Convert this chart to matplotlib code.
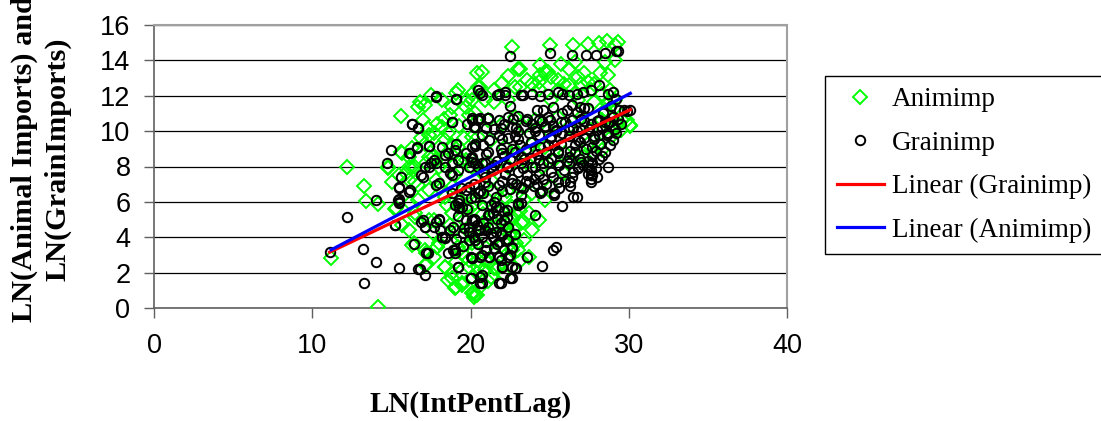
"""
Scatter of LN(Animal Imports) and LN(GrainImports) against LN(IntPentLag)
"""
import numpy as np
import matplotlib
matplotlib.use("Agg")
import matplotlib.pyplot as plt

# Animimp points (x, y)
animimp_pts = [
    (11.2, 2.85), (12.2, 7.95), (13.3, 6.91), (13.4, 6.03), (14.15, 5.87), (14.15, 0.04),
    (14.8, 7.89), (15.05, 7.1), (15.26, 5.6), (15.6, 8.81), (15.6, 10.87), (15.7, 4.69),
    (15.9, 7.61), (16.2, 5.91), (16.4, 3.65), (16.7, 11.37), (16.8, 11.66), (17.0, 10.62),
    (17.1, 11.47), (17.2, 3.09), (17.2, 2.43), (17.4, 9.77), (17.5, 12.03), (17.7, 4.97),
    (17.9, 10.43), (18.0, 3.65), (18.4, 2.33), (18.6, 1.58), (18.7, 10.9), (18.8, 1.96),
    (19.0, 1.11), (19.1, 12.16), (19.2, 12.35), (19.45, 1.3), (19.8, 11.75), (19.9, 10.9),
    (20.2, 0.83), (20.4, 0.73), (20.5, 12.5), (20.7, 13.35), (21.0, 4.97), (21.3, 4.59),
    (21.8, 5.35), (22.2, 4.78), (22.6, 4.97), (22.8, 5.35), (23.3, 4.88), (22.6, 14.76),
    (22.4, 13.11), (23.1, 13.5), (22.6, 2.33), (24.4, 13.16), (24.7, 13.35), (25.0, 14.86),
    (24.3, 12.79), (30.1, 10.28),
    (16.3, 9.02), (15.7, 8.74), (16.1, 7.98), (17.4, 8.55), (17.8, 8.36), (18.4, 8.36),
    (18.8, 9.21), (19.2, 9.11), (19.7, 8.36), (20.1, 9.68), (20.4, 13.26),
    (14.8, 7.98), (15.5, 7.51), (16.1, 7.23), (16.3, 7.98), (16.7, 6.95), (15.3, 5.63),
    (16.5, 5.16), (16.3, 3.56), (17.1, 3.27), (17.1, 2.43), (17.9, 3.46), (17.7, 2.9),
    (18.4, 2.33), (18.8, 1.67), (19.1, 1.2), (19.45, 1.39), (20.1, 0.83), (20.2, 0.64),
    (19.45, 3.09), (19.9, 2.71), (20.1, 1.77),
    (26.5, 14.86), (27.4, 14.95), (28.1, 14.99), (28.6, 15.1), (29.3, 15.05), (29.1, 14.86),
    (23.0, 13.54), (24.4, 13.73), (24.9, 13.35), (25.7, 13.82), (26.2, 13.54), (26.6, 13.92),
    (26.8, 13.07), (27.2, 13.26), (27.4, 12.79), (28.2, 13.26), (27.8, 12.69), (28.7, 13.16),
    (29.1, 14.01), (28.5, 13.92), (25.5, 12.88), (26.2, 12.6), (20.6, 12.5), (23.1, 12.5),
    (23.9, 12.69), (20.1, 11.75), (21.5, 11.66), (22.4, 11.75), (29.1, 11.28), (29.6, 10.62),
    (30.1, 10.34), (25.1, 11.75), (26.8, 11.75), (27.8, 11.66), (28.7, 11.56),
    (20.3, 11.0), (21.1, 10.62), (22.0, 10.43), (22.8, 10.81), (23.4, 10.24), (24.1, 10.62),
    (24.9, 10.06), (25.5, 10.81), (26.2, 10.24), (27.0, 10.81), (27.6, 10.06), (28.3, 10.62),
    (28.9, 10.24), (29.5, 10.06), (20.5, 9.68), (21.3, 9.49), (22.2, 9.11), (23.0, 8.74),
    (23.9, 9.3), (24.7, 9.11), (25.3, 8.36), (26.0, 8.74), (26.8, 8.55), (27.4, 9.3),
    (28.3, 8.93), (28.9, 9.68), (20.1, 8.36), (21.1, 8.17), (22.4, 7.98), (23.6, 8.17),
    (24.5, 7.98),
    (20.3, 0.73), (20.5, 2.33), (21.5, 2.24), (23.2, 2.71), (23.7, 2.9), (22.6, 3.27),
    (22.8, 4.59), (23.2, 4.78), (23.7, 5.35), (22.7, 4.12), (22.4, 3.84), (22.0, 5.54),
    (21.1, 6.1), (20.7, 4.59), (20.1, 3.65), (20.3, 5.91), (20.0, 5.72), (21.8, 2.9),
    (22.2, 4.4), (19.9, 2.33), (20.9, 2.71),
    (23.9, 6.48), (24.7, 6.1), (25.1, 6.85), (25.9, 7.61), (26.4, 8.36), (27.2, 8.55),
    (27.8, 8.74), (28.1, 9.3), (22.6, 5.72), (23.4, 6.1), (23.0, 6.85), (22.2, 6.29),
    (21.3, 7.23), (20.7, 7.61), (20.1, 7.98), (19.45, 8.36), (19.0, 8.74), (18.4, 9.49),
    (18.2, 10.24), (18.0, 6.85), (18.4, 6.29), (18.8, 5.35), (19.0, 4.41), (19.2, 3.46),
    (19.7, 2.9), (19.7, 5.72), (19.9, 4.59), (20.3, 3.84), (20.5, 2.71), (20.9, 2.15),
    (21.3, 1.77), (21.8, 2.33), (22.4, 2.9), (23.0, 3.28), (23.4, 3.84), (23.9, 4.41),
    (24.3, 4.97),
    (16.7, 6.1), (17.4, 6.67), (17.8, 7.23), (17.2, 8.17), (16.5, 7.98), (16.1, 8.55),
    (17.1, 9.3), (17.6, 8.55), (18.0, 9.11), (16.5, 5.35), (16.1, 4.41), (17.6, 4.22),
    (17.9, 3.46), (17.4, 4.97), (16.5, 7.14),
    (18.2, 11.75), (18.8, 11.37), (19.7, 11.37), (20.1, 12.1), (20.9, 11.75), (21.5, 12.3),
    (22.0, 12.7), (22.8, 12.5), (23.6, 12.88), (24.3, 12.4),
    (25.1, 13.07), (25.5, 12.3), (25.9, 12.69), (26.6, 12.12), (27.0, 12.69), (27.6, 12.3),
    (28.3, 12.12), (28.8, 12.3), (29.1, 11.75), (28.5, 11.19), (29.3, 10.43), (29.9, 10.62),
    (18.5, 5.8), (18.9, 6.9), (19.3, 6.0), (19.6, 5.0), (19.8, 6.5), (20.0, 4.2),
    (20.2, 3.2), (20.4, 2.0), (20.6, 6.5), (20.8, 5.3), (21.0, 3.4), (21.2, 2.6),
    (21.4, 6.6), (21.6, 4.6), (21.9, 3.5), (22.1, 1.9), (22.3, 6.6), (22.5, 4.2),
    (22.9, 3.7), (23.1, 5.5), (19.4, 4.0), (18.7, 4.7), (19.1, 2.6), (20.6, 1.2),
    (21.1, 1.5),
    (16.9, 9.6), (17.3, 10.2), (17.7, 9.9), (18.3, 10.7), (18.6, 9.9), (19.3, 10.3),
    (19.6, 9.6), (18.0, 8.0), (19.0, 7.5),
]

# Grainimp points (x, y)
grainimp_pts = [
    (11.1, 3.15), (12.2, 5.12), (13.2, 3.35), (13.3, 1.43), (14.0, 2.6), (14.0, 6.08),
    (14.7, 8.21), (15.0, 8.93), (15.2, 4.67), (15.4, 6.1), (15.5, 6.0), (15.5, 2.28),
    (15.5, 6.76), (15.6, 7.42), (16.2, 8.74), (16.2, 6.67), (16.3, 10.4), (16.4, 3.6),
    (16.7, 10.2), (16.6, 9.11), (16.8, 2.18), (17.0, 4.97), (17.1, 4.59), (17.1, 1.84),
    (17.2, 3.09), (17.0, 7.42), (17.1, 7.98), (17.4, 9.17), (17.5, 8.17), (17.7, 8.36),
    (17.8, 11.94), (17.8, 6.95), (18.0, 4.97), (18.1, 4.41), (18.2, 3.99), (18.4, 8.64),
    (18.4, 4.03), (18.6, 3.09), (18.7, 7.61), (18.8, 10.5), (18.9, 3.28), (19.0, 3.09),
    (19.1, 11.79), (19.1, 9.3), (19.2, 2.33), (19.3, 6.1), (19.3, 5.63), (19.5, 4.22),
    (19.7, 4.97), (19.9, 3.84), (20.0, 1.67), (20.0, 2.9), (20.2, 5.06), (20.2, 10.24),
    (20.5, 12.3), (20.5, 10.71), (20.6, 12.16), (20.6, 1.39), (20.7, 1.86), (20.7, 2.99),
    (20.6, 4.41), (20.8, 4.78), (20.8, 6.48), (21.1, 10.73), (21.2, 2.9), (21.3, 4.22),
    (21.6, 5.72), (21.7, 12.07), (21.8, 2.9), (21.8, 1.43), (21.9, 4.22), (22.0, 2.33),
    (22.2, 12.03), (22.3, 5.16), (22.4, 2.9), (22.5, 14.24), (22.5, 1.67), (22.6, 2.33),
    (22.9, 2.24), (23.0, 5.91), (23.3, 12.03), (23.6, 2.9), (24.1, 5.25), (24.4, 6.57),
    (24.5, 2.39), (25.0, 14.39), (25.2, 3.28), (25.4, 3.46), (25.3, 6.53), (25.8, 5.76),
    (26.4, 14.33), (26.5, 6.29), (26.7, 6.29), (27.3, 14.33), (27.9, 14.33), (28.1, 12.6),
    (28.5, 14.44), (29.2, 14.54), (29.3, 14.54), (29.9, 11.13), (30.1, 11.19), (27.6, 7.51),
    (27.6, 7.32), (27.7, 8.17), (28.7, 9.87),
    (20.0, 8.5), (20.3, 9.3), (20.5, 8.0), (20.7, 9.8), (20.9, 7.4), (21.0, 8.7),
    (21.2, 9.5), (21.4, 7.8), (21.5, 10.1), (21.7, 8.3), (21.9, 9.0), (22.0, 7.2),
    (22.1, 10.4), (20.2, 7.0), (20.6, 6.6), (21.1, 6.9), (21.6, 6.3), (22.0, 6.6),
    (22.3, 8.0), (22.4, 9.6), (22.6, 7.3), (22.8, 8.8), (22.9, 10.2), (23.0, 7.7),
    (23.1, 9.2), (23.3, 6.8), (23.4, 8.4), (23.5, 10.6), (23.6, 7.5), (23.8, 9.4),
    (23.9, 8.0), (24.0, 6.9), (24.1, 10.0), (22.5, 6.7), (23.2, 6.4), (23.7, 7.1),
    (22.7, 10.7), (24.2, 8.7),
    (24.3, 7.6), (24.4, 9.1), (24.6, 8.2), (24.7, 10.3), (24.8, 7.0), (25.0, 9.6),
    (25.1, 8.5), (25.2, 7.4), (25.4, 10.0), (25.5, 8.9), (25.6, 6.8), (25.7, 9.3),
    (25.9, 7.8), (26.0, 10.5), (24.5, 6.6), (25.3, 6.4), (25.8, 11.0), (24.9, 10.8),
    (26.1, 8.3), (26.2, 9.7), (26.4, 7.4), (26.5, 10.2), (26.6, 8.8), (26.8, 7.9),
    (26.9, 9.4), (27.0, 10.7), (27.1, 8.1), (27.3, 9.0), (27.4, 7.6), (27.5, 10.1),
    (27.7, 8.6), (27.8, 9.7), (27.9, 7.9), (28.0, 10.6), (26.3, 6.9), (26.7, 11.1),
    (27.2, 11.3), (27.6, 7.1),
    (28.1, 8.4), (28.2, 9.3), (28.3, 10.2), (28.4, 11.0), (28.5, 8.8), (28.6, 9.8),
    (28.8, 10.5), (28.9, 11.4), (29.0, 9.5), (29.1, 10.1), (29.2, 11.8), (29.3, 10.7),
    (28.7, 8.0), (29.4, 11.2),
    (18.8, 6.5), (19.0, 5.8), (19.2, 5.2), (19.4, 6.8), (19.6, 4.5), (19.8, 5.6),
    (20.0, 6.2), (20.2, 4.0), (20.3, 5.0), (20.5, 3.6), (20.7, 5.8), (20.9, 4.4),
    (21.0, 3.3), (21.2, 5.3), (21.4, 4.0), (21.5, 6.0), (21.7, 3.6), (21.9, 4.8),
    (22.1, 5.5), (22.3, 3.9), (22.4, 4.6), (22.6, 3.4), (22.8, 4.2), (19.1, 3.9),
    (19.5, 3.5), (18.9, 4.6),
    (20.1, 4.97), (20.4, 4.69), (20.5, 4.4), (19.9, 4.31), (20.7, 4.03), (20.3, 3.84),
    (21.1, 4.59), (21.6, 4.31), (22.0, 4.12), (21.0, 3.75), (21.8, 3.75), (22.4, 3.84),
    (21.5, 3.37), (22.1, 3.27), (22.6, 3.46), (20.1, 2.8), (20.6, 2.9), (21.2, 2.9),
    (21.9, 2.71), (22.5, 2.99), (22.0, 2.33), (22.8, 2.24), (22.6, 1.67), (21.9, 1.43),
    (20.6, 1.77), (20.7, 1.39), (20.0, 1.67), (23.2, 5.91), (23.0, 5.82), (22.3, 5.54),
    (21.8, 5.72), (21.3, 5.82), (21.4, 5.35), (22.1, 4.97), (21.7, 5.06), (21.1, 5.25),
    (20.1, 8.27), (20.7, 8.17), (21.5, 8.08), (22.4, 7.98), (23.2, 8.17), (24.1, 7.98),
    (24.9, 8.27), (25.5, 8.08), (26.2, 8.17), (26.8, 7.98), (27.6, 7.8), (27.7, 7.51),
    (26.3, 7.14), (25.3, 6.48), (24.4, 6.48), (23.2, 6.85), (22.6, 7.04), (21.8, 6.95),
    (20.9, 7.14), (20.5, 6.48), (19.9, 6.85),
    (20.1, 10.75), (20.6, 10.75), (21.1, 10.75), (21.8, 10.62), (22.4, 10.81), (23.0, 10.85),
    (23.6, 10.71), (24.3, 10.62), (25.0, 10.62), (25.7, 10.53), (26.4, 10.62), (27.2, 10.58),
    (28.1, 10.62), (28.7, 10.53), (20.2, 10.24), (21.9, 10.15), (22.6, 10.24), (24.1, 10.15),
    (24.7, 10.24), (25.4, 10.06), (26.2, 10.06), (27.0, 10.06), (28.0, 10.06), (28.6, 9.87),
    (20.3, 9.15), (20.8, 9.21), (22.0, 9.53), (23.0, 9.58), (25.1, 9.68), (26.8, 9.49),
    (27.7, 9.11), (27.8, 9.58), (20.1, 8.55), (21.1, 8.83), (22.0, 8.74), (23.2, 8.55),
    (24.3, 8.36), (25.5, 8.74), (26.2, 8.55), (27.0, 8.27), (27.7, 8.17), (20.9, 8.17),
    (20.7, 12.03), (21.8, 12.1), (22.2, 12.22), (23.2, 12.03), (23.9, 12.1), (24.4, 12.0),
    (24.9, 12.1), (25.5, 12.22), (25.8, 12.1), (26.2, 12.03), (26.7, 12.1), (27.1, 12.22),
    (27.6, 12.3), (28.7, 12.1), (29.0, 12.2),
    (22.5, 11.41), (24.2, 11.19), (24.6, 11.22), (25.2, 11.34), (26.4, 11.47), (26.9, 11.34),
    (27.4, 11.28), (29.7, 11.18),
    (17.8, 11.98), (19.1, 11.79), (16.3, 10.43), (16.7, 10.2), (18.8, 10.53), (16.1, 8.74),
    (16.6, 9.02), (17.4, 9.15), (19.8, 10.43), (20.1, 10.62), (20.3, 10.24), (20.5, 10.62),
    (18.2, 9.11), (18.6, 8.74), (19.0, 8.93), (19.2, 8.36), (19.7, 8.74), (20.1, 9.11),
    (18.8, 8.17), (17.4, 7.98), (17.8, 8.17), (20.3, 8.17),
    (15.5, 6.85), (15.5, 6.19), (15.5, 5.91), (16.1, 6.57), (15.2, 4.69), (16.7, 2.18),
    (17.3, 3.09), (16.9, 4.88), (17.1, 4.59), (17.8, 4.88), (17.7, 4.59), (18.0, 5.06),
    (18.2, 4.03), (18.4, 3.93), (18.7, 4.4), (19.0, 3.27), (19.2, 2.33), (19.2, 5.91),
    (19.45, 5.72), (19.9, 4.59), (20.1, 4.97), (20.1, 2.8), (18.8, 7.51), (18.0, 7.04),
    (16.9, 7.51), (18.4, 7.98), (19.2, 7.8), (19.9, 7.98), (19.7, 6.66), (20.3, 6.29),
    (22.2, 7.6), (22.5, 8.4), (22.9, 7.0), (23.3, 7.9), (23.5, 9.0), (23.8, 8.5),
    (24.0, 7.3), (24.3, 9.8), (24.6, 7.3), (24.8, 8.8), (25.1, 7.7), (25.3, 9.2),
    (25.6, 8.1), (25.8, 9.9), (26.0, 7.2), (26.3, 8.9), (26.5, 7.7), (26.7, 10.0),
    (26.9, 8.4), (27.2, 9.6), (27.4, 8.3), (27.6, 10.4), (27.9, 8.9), (28.1, 9.8),
    (28.3, 8.6), (28.5, 10.5), (28.8, 9.2), (29.0, 10.8), (29.2, 9.9), (29.5, 10.4),
    (23.0, 10.0), (23.7, 9.9), (24.5, 10.6), (25.2, 10.3), (26.1, 11.2), (25.5, 7.1),
    (24.2, 7.0), (23.5, 7.2), (22.8, 9.7), (22.1, 8.6), (21.3, 8.0), (21.8, 9.8),
    (21.0, 10.2), (20.8, 7.7), (22.6, 9.0), (23.9, 10.4), (24.9, 9.2), (26.6, 9.2),
    (27.5, 7.9), (28.0, 7.4),
]

# linear trend lines: (slope, intercept)
grain_fit = (0.424, -1.55)
anim_fit = (0.468, -1.95)

series_labels = ["Animimp", "Grainimp", "Linear (Grainimp)", "Linear (Animimp)"]
x_label = "LN(IntPentLag)"
y_label = "LN(Animal Imports) and\nLN(GrainImports)"

anim = np.array(animimp_pts)
grain = np.array(grainimp_pts)

fig = plt.figure(figsize=(11.01, 4.21), dpi=100)
ax = fig.add_axes([154/1101, 1-308/421, 633/1101, 283/421])

ax.plot(anim[:, 0], anim[:, 1], ls="none", marker="D", ms=6.8, mfc="none",
        mec="#00FF00", mew=1.4, label=series_labels[0], zorder=3)
ax.plot(grain[:, 0], grain[:, 1], ls="none", marker="o", ms=6.8, mfc="none",
        mec="black", mew=1.4, label=series_labels[1], zorder=4)

xg = np.array([grain[:, 0].min(), grain[:, 0].max()])
ax.plot(xg, grain_fit[0]*xg + grain_fit[1], color="#FF0000", lw=2.3,
        label=series_labels[2], zorder=5)
xa = np.array([anim[:, 0].min(), anim[:, 0].max()])
ax.plot(xa, anim_fit[0]*xa + anim_fit[1], color="#0000FF", lw=2.3,
        label=series_labels[3], zorder=6)

ax.set_xlim(0, 40)
ax.set_ylim(0, 16)
ax.set_xticks(np.arange(0, 41, 10))
ax.set_yticks(np.arange(0, 17, 2))
ax.grid(axis="y", color="black", lw=0.9)
ax.set_axisbelow(True)

for s in ["top", "right"]:
    ax.spines[s].set_color("#A0A0A0")
    ax.spines[s].set_linewidth(1.5)
for s in ["left", "bottom"]:
    ax.spines[s].set_color("#606060")
    ax.spines[s].set_linewidth(1.2)

ax.tick_params(direction="out", length=7, width=1, color="#606060",
               labelsize=19.5, labelfontfamily="Liberation Sans")
ax.tick_params(axis="x", pad=11)
ax.tick_params(axis="y", pad=10)

ax.set_xlabel(x_label, fontsize=21, fontweight="bold", family="Liberation Serif",
              va="center")
ax.xaxis.set_label_coords(0.5, -0.34)
ax.set_ylabel(y_label, fontsize=21.8, fontweight="bold", family="Liberation Serif",
              va="center", linespacing=1.3)
ax.yaxis.set_label_coords(-0.178, 0.527)

leg = fig.legend(loc="center", bbox_to_anchor=(0.8756, 0.608), ncol=1,
                 prop={"family": "Liberation Serif", "size": 19.5},
                 fancybox=False, edgecolor="black", framealpha=1,
                 handlelength=1.75, handletextpad=0.3, labelspacing=0.68,
                 borderpad=0.42, borderaxespad=0)
leg.get_frame().set_linewidth(1.0)

fig.savefig("out.png", dpi=100)
